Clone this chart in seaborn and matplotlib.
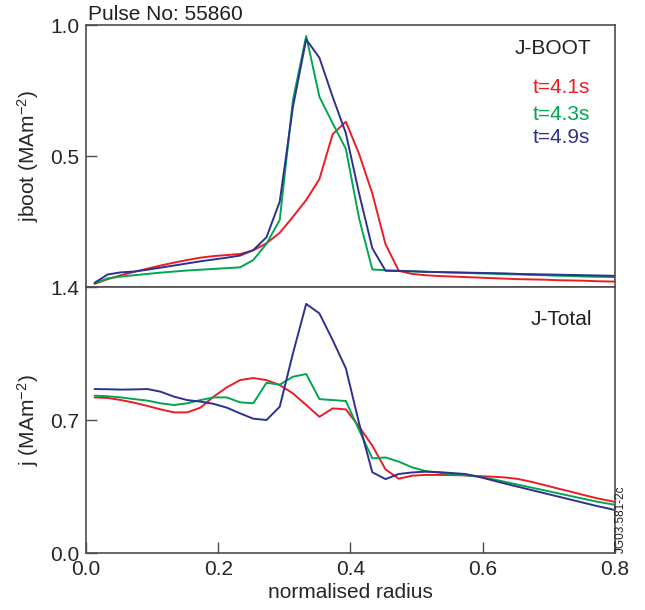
import matplotlib
matplotlib.use("Agg")
import pandas as pd
import matplotlib.pyplot as plt
import seaborn as sns

# normalised radius grid (same for all profiles)
radius = [0.013, 0.033, 0.053, 0.073, 0.093, 0.113, 0.133, 0.153, 0.173, 0.193,
          0.213, 0.233, 0.253, 0.273, 0.293, 0.313, 0.333, 0.353, 0.373, 0.393,
          0.413, 0.433, 0.453, 0.473, 0.493, 0.513, 0.533, 0.553, 0.573, 0.593,
          0.613, 0.633, 0.653, 0.673, 0.693, 0.713, 0.733, 0.753, 0.773, 0.793,
          0.813]

times = ["t=4.1s", "t=4.3s", "t=4.9s"]

# bootstrap current density (MA m^-2)
jboot_41 = [0.012, 0.030, 0.045, 0.058, 0.070, 0.082, 0.093, 0.103, 0.112, 0.118,
            0.122, 0.126, 0.140, 0.167, 0.207, 0.268, 0.332, 0.412, 0.583, 0.631,
            0.508, 0.357, 0.163, 0.062, 0.050, 0.045, 0.042, 0.040, 0.038, 0.036,
            0.034, 0.032, 0.030, 0.029, 0.028, 0.026, 0.025, 0.024, 0.022, 0.021,
            0.020]
jboot_43 = [0.014, 0.033, 0.040, 0.045, 0.050, 0.055, 0.059, 0.063, 0.066, 0.069,
            0.072, 0.075, 0.103, 0.165, 0.256, 0.714, 0.958, 0.726, 0.625, 0.527,
            0.262, 0.067, 0.064, 0.062, 0.060, 0.058, 0.057, 0.055, 0.054, 0.052,
            0.051, 0.049, 0.048, 0.046, 0.045, 0.043, 0.042, 0.040, 0.039, 0.038,
            0.037]
jboot_49 = [0.016, 0.048, 0.056, 0.059, 0.066, 0.074, 0.082, 0.090, 0.098, 0.105,
            0.112, 0.120, 0.141, 0.190, 0.326, 0.688, 0.945, 0.875, 0.726, 0.587,
            0.357, 0.148, 0.062, 0.061, 0.060, 0.058, 0.057, 0.056, 0.055, 0.054,
            0.053, 0.052, 0.050, 0.049, 0.048, 0.047, 0.046, 0.045, 0.044, 0.043,
            0.042]

# total current density (MA m^-2)
jtot_41 = [0.819, 0.816, 0.805, 0.791, 0.774, 0.756, 0.740, 0.740, 0.765, 0.823,
           0.872, 0.910, 0.921, 0.910, 0.884, 0.840, 0.779, 0.717, 0.761, 0.756,
           0.665, 0.565, 0.440, 0.391, 0.407, 0.411, 0.411, 0.410, 0.409, 0.405,
           0.402, 0.398, 0.390, 0.375, 0.358, 0.340, 0.323, 0.305, 0.288, 0.274,
           0.258]
jtot_43 = [0.828, 0.825, 0.819, 0.810, 0.802, 0.788, 0.779, 0.788, 0.805, 0.819,
           0.819, 0.793, 0.788, 0.896, 0.886, 0.928, 0.942, 0.810, 0.805, 0.800,
           0.647, 0.498, 0.503, 0.481, 0.451, 0.432, 0.423, 0.414, 0.409, 0.402,
           0.390, 0.375, 0.360, 0.345, 0.330, 0.315, 0.300, 0.285, 0.270, 0.258,
           0.245]
jtot_49 = [0.863, 0.862, 0.860, 0.861, 0.863, 0.849, 0.823, 0.805, 0.797, 0.785,
           0.765, 0.735, 0.707, 0.700, 0.770, 1.051, 1.311, 1.261, 1.121, 0.972,
           0.683, 0.425, 0.389, 0.416, 0.424, 0.428, 0.426, 0.421, 0.416, 0.402,
           0.384, 0.366, 0.349, 0.332, 0.315, 0.298, 0.281, 0.264, 0.247, 0.232,
           0.215]

palette = {"t=4.1s": "#ec1c24", "t=4.3s": "#00a651", "t=4.9s": "#2e3192"}
frame_color = "#4d4d4d"
font_size = 15


def to_long(series: list) -> pd.DataFrame:
    frames = []
    for t, vals in zip(times, series):
        frames.append(pd.DataFrame({"radius": radius, "j": vals, "time": t}))
    return pd.concat(frames, ignore_index=True)


def style_axis(ax) -> None:
    for spine in ax.spines.values():
        spine.set_color(frame_color)
        spine.set_linewidth(1.2)
        spine.set_visible(True)
    ax.tick_params(direction="in", length=8, width=1.0, color=frame_color,
                   labelsize=font_size, pad=5, top=False, right=False)


sns.set_style("ticks")
plt.rcParams["font.family"] = ["Liberation Sans", "DejaVu Sans"]
plt.rcParams["mathtext.fontset"] = "custom"
plt.rcParams["mathtext.rm"] = "Liberation Sans"
plt.rcParams["mathtext.it"] = "Liberation Sans:italic"
plt.rcParams["text.color"] = "#231f20"

fig = plt.figure(figsize=(6.45, 6.1), dpi=100)
ax_top = fig.add_axes([0.1333, 0.5295, 0.8202, 0.4295])
ax_bot = fig.add_axes([0.1333, 0.0934, 0.8202, 0.4361], sharex=ax_top)

sns.lineplot(data=to_long([jboot_41, jboot_43, jboot_49]), x="radius", y="j",
             hue="time", palette=palette, linewidth=1.4, legend=False, ax=ax_top)
sns.lineplot(data=to_long([jtot_41, jtot_43, jtot_49]), x="radius", y="j",
             hue="time", palette=palette, linewidth=1.4, legend=False, ax=ax_bot)

ax_top.set_xlim(0.0, 0.8)
ax_top.set_ylim(0.0, 1.0)
ax_top.set_yticks([0.5, 1.0])
ax_top.set_yticklabels(["0.5", "1.0"])
ax_top.set_xlabel("")
ax_top.set_ylabel(r"jboot (MAm$^{-2}$)", fontsize=font_size)
style_axis(ax_top)
ax_top.tick_params(axis="x", bottom=False, labelbottom=False)
ax_top.yaxis.set_label_coords(-0.085, 0.5)

ax_bot.set_ylim(0.0, 1.4)
ax_bot.set_yticks([0.0, 0.7, 1.4])
ax_bot.set_yticklabels(["0.0", "0.7", "1.4"])
ax_bot.set_xticks([0.0, 0.2, 0.4, 0.6, 0.8])
ax_bot.set_xticklabels(["0.0", "0.2", "0.4", "0.6", "0.8"])
ax_bot.set_xlabel("normalised radius", fontsize=font_size, labelpad=3)
ax_bot.set_ylabel(r"j (MAm$^{-2}$)", fontsize=font_size)
style_axis(ax_bot)
ax_bot.yaxis.set_label_coords(-0.085, 0.5)

# panel annotations
ax_top.text(0.956, 0.912, "J-BOOT", transform=ax_top.transAxes, ha="right",
            va="center", fontsize=font_size)
for t, ypos in zip(times, [0.76, 0.66, 0.569]):
    ax_top.text(0.953, ypos, t, transform=ax_top.transAxes, ha="right",
                va="center", fontsize=font_size, color=palette[t])
ax_bot.text(0.956, 0.876, "J-Total", transform=ax_bot.transAxes, ha="right",
            va="center", fontsize=font_size)

fig.text(88 / 645, 1 - 20 / 610, "Pulse No: 55860", ha="left", va="baseline",
         fontsize=font_size)
fig.text(0.963, 0.0934, "JG03.581-2c", rotation=90, ha="center", va="bottom",
         fontsize=8.5)

fig.savefig("out.png", dpi=100)
plt.close(fig)
